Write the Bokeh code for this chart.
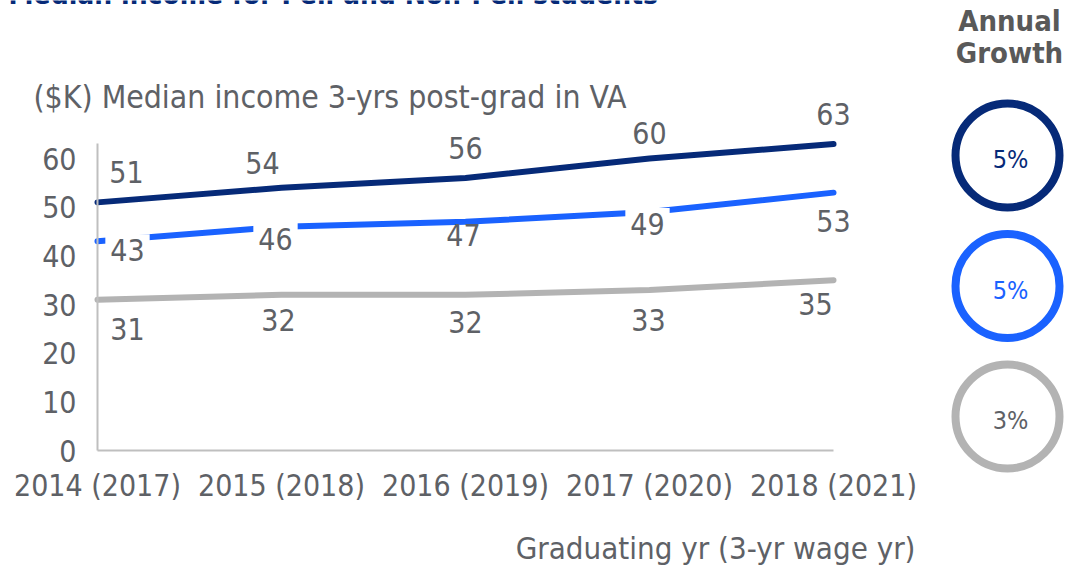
from bokeh.plotting import figure
from bokeh.models import Range1d, FixedTicker, ColumnDataSource
from bokeh.embed import file_html
from bokeh.resources import INLINE
from bokeh.core.properties import value

# ---------------- data ----------------
categories = ["2014 (2017)", "2015 (2018)", "2016 (2019)", "2017 (2020)", "2018 (2021)"]
income_top = [51, 54, 56, 60, 63]
income_mid = [43, 46, 47, 49, 53]
income_low = [31, 32, 32, 33, 35]
growth_labels = ["5%", "5%", "3%"]
y_ticks = [0, 10, 20, 30, 40, 50, 60]

title_text = "Median income for Pell and Non-Pell students"
subtitle_text = "($K) Median income 3-yrs post-grad in VA"
xlabel_text = "Graduating yr (3-yr wage yr)"
growth_header = ["Annual", "Growth"]

# ---------------- styles ----------------
FONT = "DejaVu Sans Condensed"
NAVY = "#062A78"
BLUE = "#1A62FF"
GREY = "#B3B3B3"
TXT = "#5E6166"
HEAD = "#595959"
series_colors = [NAVY, BLUE, GREY]
growth_text_colors = [NAVY, BLUE, TXT]
# data label pixel offsets (dx, dy) per series
off_top = [(29, -30), (-19, -25), (0, -30), (0, -26), (0, -30)]
off_mid = [(30, 9), (-6, 12), (-2, 13), (-2, 12), (0, 28)]
off_low = [(30, 29), (-3, 25), (0, 27), (-1, 30), (-18, 24)]
mid_bg = [True, True, False, True, False]

# layout (canvas pixels)
W, H = 1068, 567
FRAME_L, FRAME_R, FRAME_T, FRAME_B = 97, 833, 143, 450
YMAX = 63.1
XMAX = len(categories) - 1
SX = (FRAME_R - FRAME_L) / XMAX
SY = (FRAME_B - FRAME_T) / YMAX


def dx(px):
    return (px - FRAME_L) / SX


def dy(py):
    return (FRAME_B - py) / SY


p = figure(width=W, height=H, output_backend="svg", toolbar_location=None,
           x_range=Range1d(dx(0), dx(W)), y_range=Range1d(dy(H), dy(0)),
           min_border=0, min_border_left=0, min_border_right=0,
           min_border_top=0, min_border_bottom=0)
p.outline_line_color = None
p.grid.visible = False
p.background_fill_color = "white"
p.border_fill_color = "white"

xs = list(range(len(categories)))
for vals, col in zip([income_low, income_mid, income_top], [GREY, BLUE, NAVY]):
    p.line(xs, vals, line_color=col, line_width=6, line_cap="round")

# axes placed at the data origin
p.xaxis.fixed_location = 0
p.yaxis.fixed_location = 0
p.xaxis.bounds = (0, XMAX)
p.yaxis.bounds = (0, YMAX)
p.xaxis.ticker = FixedTicker(ticks=xs)
p.xaxis.major_label_overrides = {i: c for i, c in enumerate(categories)}
p.yaxis.ticker = FixedTicker(ticks=y_ticks)
for ax in (p.xaxis, p.yaxis):
    ax.axis_line_color = "#BFBFBF"
    ax.axis_line_width = 2
    ax.major_tick_line_color = None
    ax.minor_tick_line_color = None
    ax.major_label_text_font = FONT
    ax.major_label_text_color = TXT
    ax.major_label_text_font_size = "30px"
p.xaxis.major_label_standoff = 11
p.yaxis.major_label_standoff = 15


def add_labels(vals, offs, subset=None, bg=False):
    idx = [i for i in range(len(vals)) if subset is None or subset[i] == bg]
    src = ColumnDataSource(dict(x=[xs[i] for i in idx], y=[vals[i] for i in idx],
                                t=[str(vals[i]) for i in idx],
                                ox=[offs[i][0] for i in idx], oy=[offs[i][1] for i in idx]))
    kw = {}
    if bg:
        kw = dict(background_fill_color="white", padding=5)
    p.text(x="x", y="y", text="t", x_offset="ox", y_offset="oy", source=src,
           text_font=value(FONT), text_font_size="30px", text_color=TXT,
           text_align="center", text_baseline="middle", **kw)


add_labels(income_top, off_top)
add_labels(income_low, off_low)
add_labels(income_mid, off_mid, mid_bg, True)
add_labels(income_mid, off_mid, mid_bg, False)


def add_text(px, py, txt, size, color, align="left", baseline="middle", bold=False):
    p.text(x=[dx(px)], y=[dy(py)], text=[txt], text_font=value(FONT),
           text_font_size=size, text_color=color, text_align=align,
           text_baseline=baseline, text_font_style="bold" if bold else "normal")


add_text(8, -6, title_text, "28px", NAVY, bold=True)
add_text(33, 96, subtitle_text, "31.7px", TXT)
add_text(915, 547, xlabel_text, "31px", TXT, align="right")

# ---------------- growth panel ----------------
CX, CY0, STEP = 1007, 155, 130.5
gsrc = ColumnDataSource(dict(
    x=[dx(CX)] * len(growth_labels),
    y=[dy(CY0 + STEP * i) for i in range(len(growth_labels))],
    t=growth_labels, lc=series_colors, tc=growth_text_colors))
p.scatter(x="x", y="y", source=gsrc, marker="circle", size=104, line_width=8,
          line_color="lc", fill_color="white")
p.text(x="x", y="y", text="t", source=gsrc, x_offset=3, y_offset=4,
       text_font=value(FONT), text_font_size="25px", text_color="tc",
       text_align="center", text_baseline="middle")
for i, h in enumerate(growth_header):
    add_text(1009, 20 + 32 * i, h, "29px", HEAD, align="center", bold=True)

open("out.html", "w").write(file_html(p, INLINE))
